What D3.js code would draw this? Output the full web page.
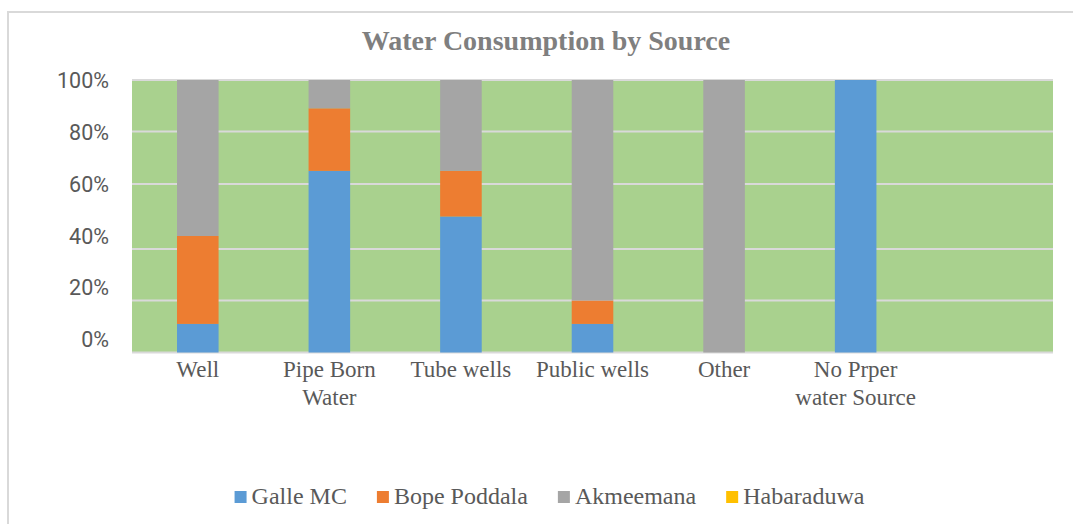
<!DOCTYPE html>
<html>
<head>
<meta charset="utf-8">
<script src="https://cdn.jsdelivr.net/npm/d3@7"></script>
<style>
  html, body { margin: 0; padding: 0; background: #fff; }
  svg { display: block; }
</style>
</head>
<body>
<svg id="chart" width="1073" height="524"></svg>
<script>
// Données du graphique (en %)
const categories = ['Well', 'Pipe Born Water', 'Tube wells', 'Public wells', 'Other', 'No Prper water Source', ''];
const categoryLines = [['Well'], ['Pipe Born', 'Water'], ['Tube wells'], ['Public wells'], ['Other'], ['No Prper', 'water Source'], ['']];
const seriesNames = ['Galle MC', 'Bope Poddala', 'Akmeemana', 'Habaraduwa'];
const galleMC = [11, 65, 50, 11, 0, 100, 0];
const bopePoddala = [33, 24, 15, 9, 0, 0, 0];
const akmeemana = [56, 11, 35, 80, 100, 0, 0];
const habaraduwa = [0, 0, 0, 0, 0, 0, 0];
const yTicks = [0, 0.2, 0.4, 0.6, 0.8, 1];

const colors = ['#5B9BD5', '#ED7D31', '#A5A5A5', '#FFC000'];

// Mise en page
const plot = { left: 132, right: 1053, top: 80, bottom: 352.5 };
const textColor = '#595959';

const svg = d3.select('#chart');

// Cadre du graphique
svg.append('rect')
  .attr('x', 8).attr('y', 12)
  .attr('width', 1100).attr('height', 600)
  .attr('fill', '#fff')
  .attr('stroke', '#D9D9D9')
  .attr('stroke-width', 2);

// Titre
svg.append('text')
  .attr('x', 546).attr('y', 50)
  .attr('text-anchor', 'middle')
  .style('font-family', '"Liberation Serif", "Times New Roman", serif')
  .style('font-weight', 'bold')
  .style('font-size', '28px')
  .attr('fill', '#7F7F7F')
  .text('Water Consumption by Source');

// Table empilée
const rows = categories.map((c, i) => ({
  cat: c,
  'Galle MC': galleMC[i],
  'Bope Poddala': bopePoddala[i],
  'Akmeemana': akmeemana[i],
  'Habaraduwa': habaraduwa[i]
}));
const stacked = d3.stack().keys(seriesNames).offset(d3.stackOffsetExpand)(rows);

// Échelles
const x = d3.scaleBand()
  .domain(categories)
  .range([plot.left, plot.right])
  .paddingInner(0.684)
  .paddingOuter(0.342);

// l'image source a une zone de tracé étirée sous 60 % : échelle par morceaux
const y = d3.scaleLinear()
  .domain(yTicks)
  .range([352.5, 300.5, 249, 184, 131.5, 80]);

// les libellés de l'axe Y restent régulièrement espacés
const yLabel = d3.scaleLinear().domain([0, 1]).range([339, 80]);

// Fond de la zone de tracé
svg.append('rect')
  .attr('x', plot.left).attr('y', plot.top)
  .attr('width', plot.right - plot.left)
  .attr('height', plot.bottom - plot.top)
  .attr('fill', '#A9D18E');

// Quadrillage
svg.append('g')
  .selectAll('line')
  .data(yTicks)
  .enter()
  .append('line')
  .attr('x1', plot.left).attr('x2', plot.right)
  .attr('y1', d => y(d)).attr('y2', d => y(d))
  .attr('stroke', '#D9D9D9')
  .attr('stroke-width', 2);

// Barres
svg.append('g')
  .selectAll('g')
  .data(stacked)
  .enter()
  .append('g')
  .attr('fill', (d, i) => colors[i])
  .selectAll('rect')
  .data(d => d)
  .enter()
  .append('rect')
  .attr('x', d => x(d.data.cat))
  .attr('width', x.bandwidth())
  .attr('y', d => y(d[1]))
  .attr('height', d => Math.max(0, y(d[0]) - y(d[1])));

// Axe Y
const yAxis = svg.append('g')
  .attr('transform', 'translate(109,0)')
  .call(d3.axisLeft(yLabel).tickValues(yTicks).tickFormat(d3.format('.0%')).tickSize(0).tickPadding(0));
yAxis.select('.domain').remove();
yAxis.selectAll('text')
  .attr('fill', textColor)
  .attr('dy', '0.36em')
  .style('font-family', 'Roboto, "Liberation Sans", sans-serif')
  .style('font-size', '21.5px');

// Axe X
const xAxis = svg.append('g')
  .attr('transform', `translate(0,${plot.bottom})`)
  .call(d3.axisBottom(x).tickSize(0).tickFormat(''));
xAxis.select('.domain').remove();
xAxis.selectAll('.tick text').each(function(d, i) {
  const t = d3.select(this)
    .attr('y', 0).attr('dy', null)
    .attr('fill', textColor)
    .style('font-family', '"Liberation Serif", "Times New Roman", serif')
    .style('font-size', '23px');
  categoryLines[i].forEach((line, j) => {
    t.append('tspan').attr('x', 0).attr('y', 24 + j * 28).text(line);
  });
});

// Légende
const legend = svg.append('g');
const items = legend.selectAll('g')
  .data(seriesNames)
  .enter()
  .append('g');
items.append('rect')
  .attr('width', 12).attr('height', 12)
  .attr('y', 491)
  .attr('fill', (d, i) => colors[i]);
items.append('text')
  .attr('x', 17).attr('y', 503.5)
  .attr('fill', textColor)
  .style('font-family', '"Liberation Serif", "Times New Roman", serif')
  .style('font-size', '24px')
  .text(d => d);

let offset = 0;
const positions = [];
items.each(function() {
  const w = 17 + d3.select(this).select('text').node().getComputedTextLength();
  positions.push(offset);
  offset += w + 30;
});
const totalWidth = offset - 30;
const startX = 549.5 - totalWidth / 2;
items.attr('transform', (d, i) => `translate(${startX + positions[i]},0)`);
</script>
</body>
</html>
